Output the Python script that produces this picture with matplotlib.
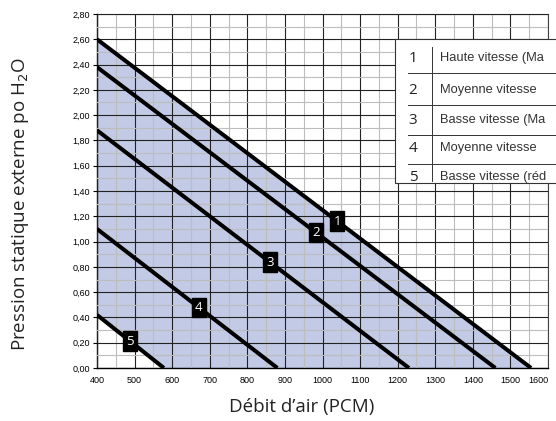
import numpy as np
import matplotlib.pyplot as plt
from matplotlib.patches import Rectangle

# curves: straight lines, (start pressure at 400 PCM, flow at 0 pressure)
curve_ids = ['1', '2', '3', '4', '5']
p_at_400 = [2.60, 2.38, 1.88, 1.10, 0.42]
q_at_zero = [1555, 1460, 1230, 880, 578]
label_x = [1039, 983, 860, 671, 488]
# legend text as far as it shows in the picture
legend_txt = ['Haute vitesse (Ma', 'Moyenne vitesse',
              'Basse vitesse (Ma', 'Moyenne vitesse',
              'Basse vitesse (réd']

xticks = np.arange(400, 1601, 100)
yticks = np.arange(0, 2.81, 0.2)

fig = plt.figure(figsize=(5.56, 4.21), dpi=100)
ax = fig.add_axes([97/556, 1-368/421, 451/556, 354/421])

# shaded region between curve 1 and curve 5
xs = np.linspace(400, q_at_zero[0], 300)
top = np.interp(xs, [400, q_at_zero[0]], [p_at_400[0], 0])
bot = np.clip(np.interp(xs, [400, q_at_zero[4]], [p_at_400[4], 0]), 0, None)
ax.fill_between(xs, bot, top, color='#c2cae5', zorder=1, lw=0)

for cid, p0, q0, lx in zip(curve_ids, p_at_400, q_at_zero, label_x):
    ax.plot([400, q0], [p0, 0], color='black', lw=2.9, zorder=3, solid_capstyle='butt')
    ly = p0 * (1 - (lx - 400) / (q0 - 400))
    ax.text(lx, ly, cid, color='white', fontsize=9.5, ha='center', va='center',
            family='Open Sans', zorder=4,
            bbox=dict(boxstyle='square,pad=0.25', fc='black', ec='black'))

ax.set_xlim(400, 1600)
ax.set_ylim(0, 2.8)
ax.set_xticks(xticks)
ax.set_yticks(yticks)
ax.set_xticks(np.arange(450, 1600, 100), minor=True)
ax.set_yticks(np.arange(0.1, 2.8, 0.2), minor=True)
ax.set_yticklabels([f'{v:.2f}'.replace('.', ',') for v in yticks])
ax.tick_params(axis='both', which='minor', length=0)
ax.tick_params(axis='x', which='major', length=0, labelsize=6.5, pad=6)
ax.tick_params(axis='y', which='major', length=3, width=0.8, direction='out',
               labelsize=6.5, pad=2)
for lab in ax.get_xticklabels() + ax.get_yticklabels():
    lab.set_family('Liberation Sans')
ax.get_xticklabels()[-1].set_horizontalalignment('right')
ax.grid(which='major', color='#222222', lw=0.8, zorder=2)
ax.grid(which='minor', color='#bdbdbd', lw=0.8, zorder=2)
ax.set_axisbelow(False)
for s in ax.spines.values():
    s.set_color('#444444')
    s.set_linewidth(0.8)
ax.spines['left'].set_color('black')
ax.spines['bottom'].set_color('black')
ax.spines['left'].set_linewidth(1.0)
ax.spines['bottom'].set_linewidth(1.0)

fig.text(302/556, 1-407/421, 'Débit d\u2019air (PCM)', ha='center', va='center',
         fontsize=13.5, family='Open Sans', color='#222222')
fig.text(21/556, 1-204/421, 'Pression statique externe po H$_2$O', rotation=90,
         ha='center', va='center', fontsize=13.5, family='Open Sans', color='#222222')

# legend table
tr = fig.transFigure
fig.patches.append(Rectangle((395/556, 1-183/421), 170/556, 144/421, transform=tr,
                             fc='white', ec='#333333', lw=0.8, zorder=5))
row_y = [58, 90, 120, 148, 177]
for cid, txt, y in zip(curve_ids, legend_txt, row_y):
    fig.text(413/556, 1-y/421, cid, ha='center', va='center', fontsize=11,
             family='Open Sans', color='#222222', zorder=6)
    fig.text(440/556, 1-y/421, txt, ha='left', va='center', fontsize=9.3,
             family='Liberation Sans', color='#333333', zorder=6)
for y in [73, 105, 135, 164]:
    fig.add_artist(plt.Line2D([408/556, 1], [1-y/421, 1-y/421], transform=tr,
                              color='#333333', lw=0.7, zorder=6))
fig.add_artist(plt.Line2D([432/556, 432/556], [1-47/421, 1-181/421], transform=tr,
                          color='#333333', lw=0.7, zorder=6))

fig.savefig('out.png', dpi=100)
